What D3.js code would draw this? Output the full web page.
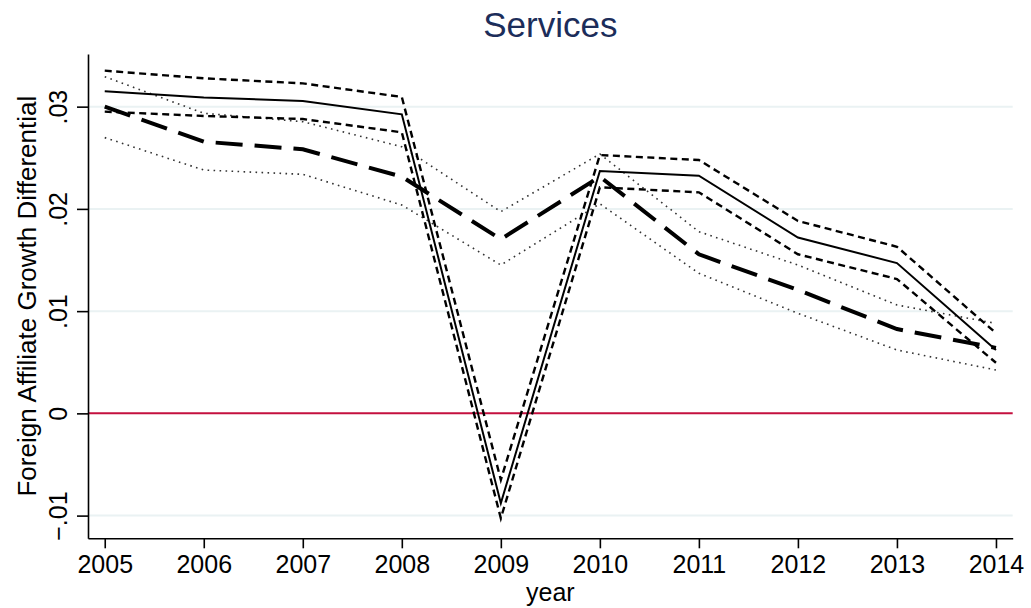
<!DOCTYPE html>
<html>
<head>
<meta charset="utf-8">
<script src="https://cdn.jsdelivr.net/npm/d3@7/dist/d3.min.js"></script>
<style>
  html, body { margin: 0; padding: 0; background: #fff; }
  svg { display: block; font-family: "Liberation Sans", Arial, Helvetica, sans-serif; }
</style>
</head>
<body>
<svg id="chart" width="1031" height="608"></svg>
<script>
// Years on the horizontal axis
const years = [2005, 2006, 2007, 2008, 2009, 2010, 2011, 2012, 2013, 2014];

// First specification: point estimate with its confidence band
const estimate1 = [0.0315, 0.0309, 0.03055, 0.02925, -0.0088, 0.0237, 0.02325, 0.0172, 0.0147, 0.0062];
const upper1    = [0.03352, 0.03277, 0.03228, 0.03095, -0.0065, 0.02527, 0.02478, 0.01882, 0.0163, 0.00785];
const lower1    = [0.02951, 0.02909, 0.02879, 0.02749, -0.01026, 0.02211, 0.02162, 0.01556, 0.01314, 0.00495];

// Second specification: point estimate with its confidence band
const estimate2 = [0.0300, 0.02657, 0.02583, 0.02315, 0.01703, 0.02315, 0.01556, 0.01207, 0.00825, 0.0064];
const upper2    = [0.03293, 0.02935, 0.02853, 0.02608, 0.01973, 0.02537, 0.01777, 0.01451, 0.0106, 0.0088];
const lower2    = [0.02697, 0.0238, 0.02338, 0.02038, 0.01451, 0.0205, 0.0137, 0.00979, 0.0062, 0.00424];

// Tick values and their printed labels
const yTicks = [-0.01, 0, 0.01, 0.02, 0.03];
const yTickLabels = ["\u2212.01", "0", ".01", ".02", ".03"];
const gridValues = [-0.01, 0.01, 0.02, 0.03];

const titleText = "Services";
const xTitle = "year";
const yTitle = "Foreign Affiliate Growth Differential";

const svg = d3.select("#chart");
const plotLeft = 88, plotRight = 1012.7, plotTop = 54, plotBottom = 538.3;

const x = d3.scaleLinear().domain([2004.831, 2014.169]).range([plotLeft, plotRight]);
const y = d3.scaleLinear().domain([-0.01222, 0.03515]).range([plotBottom, plotTop]);

// Light grid lines
svg.append("g").selectAll("line").data(gridValues).join("line")
  .attr("x1", plotLeft).attr("x2", plotRight)
  .attr("y1", d => y(d)).attr("y2", d => y(d))
  .attr("stroke", "#eaf2f3").attr("stroke-width", 2);

// Reference line at zero
svg.append("line")
  .attr("x1", plotLeft).attr("x2", plotRight)
  .attr("y1", y(0)).attr("y2", y(0))
  .attr("stroke", "#c4103f").attr("stroke-width", 2);

// Series lines
const line = d3.line().x((d, i) => x(years[i])).y(d => y(d));
const series = [
  { values: lower2, width: 1.6, dash: "1.6,4.4", color: "#333" },
  { values: upper2, width: 1.6, dash: "1.6,4.4", color: "#333" },
  { values: lower1, width: 2.4, dash: "7,4.5", color: "#000" },
  { values: upper1, width: 2.4, dash: "7,4.5", color: "#000" },
  { values: estimate2, width: 4, dash: "27,12", color: "#000" },
  { values: estimate1, width: 2, dash: null, color: "#000" }
];
svg.append("g").selectAll("path").data(series).join("path")
  .attr("d", d => line(d.values))
  .attr("fill", "none")
  .attr("stroke", d => d.color)
  .attr("stroke-width", d => d.width)
  .attr("stroke-dasharray", d => d.dash)
  .attr("stroke-linejoin", "miter");

// Axes
const yAxis = d3.axisLeft(y).tickValues(yTicks)
  .tickFormat((d, i) => yTickLabels[i]).tickSize(11).tickSizeOuter(0).tickPadding(9);
const gy = svg.append("g").attr("transform", `translate(${plotLeft},0)`).call(yAxis);
gy.select(".domain").attr("stroke", "#000").attr("stroke-width", 1.6);
gy.selectAll(".tick line").attr("stroke", "#000").attr("stroke-width", 1.6);
gy.selectAll(".tick text")
  .attr("font-size", 25).attr("fill", "#000")
  .attr("transform", "rotate(-90)")
  .attr("x", 0).attr("y", -21)
  .attr("dy", 0)
  .attr("text-anchor", "middle");

const xAxis = d3.axisBottom(x).tickValues(years)
  .tickFormat(d3.format("d")).tickSize(10).tickSizeOuter(0).tickPadding(7);
const gx = svg.append("g").attr("transform", `translate(0,${plotBottom})`).call(xAxis);
gx.select(".domain").attr("stroke", "#000").attr("stroke-width", 1.6);
gx.selectAll(".tick line").attr("stroke", "#000").attr("stroke-width", 1.6);
gx.selectAll(".tick text").attr("font-size", 25).attr("fill", "#000")
  .attr("dy", 0).attr("y", 35);

// Titles
svg.append("text").text(titleText)
  .attr("x", (plotLeft + plotRight) / 2).attr("y", 37)
  .attr("text-anchor", "middle").attr("font-size", 35).attr("fill", "#1c2d5a");

svg.append("text").text(xTitle)
  .attr("x", (plotLeft + plotRight) / 2).attr("y", 601)
  .attr("text-anchor", "middle").attr("font-size", 25).attr("fill", "#000");

svg.append("text").text(yTitle)
  .attr("transform", `translate(36,${(plotTop + plotBottom) / 2}) rotate(-90)`)
  .attr("text-anchor", "middle").attr("font-size", 26).attr("fill", "#000");
</script>
</body>
</html>
